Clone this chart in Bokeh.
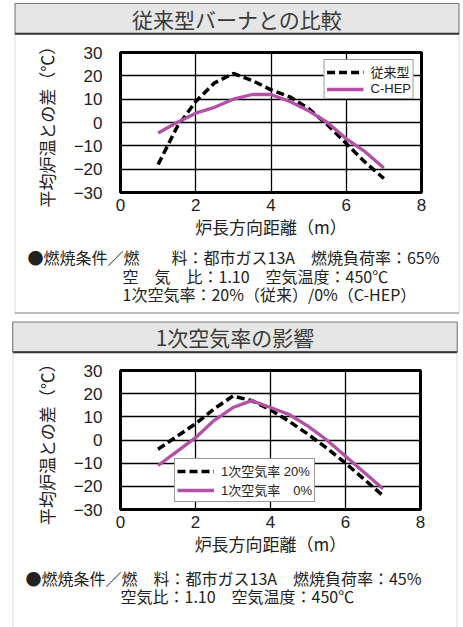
from bokeh.plotting import figure
from bokeh.layouts import column
from bokeh.models import Range1d, FixedTicker, Label
from bokeh.embed import file_html
from bokeh.resources import INLINE

# ---------------- data ----------------
x_pos = [1, 1.5, 2, 2.5, 3, 3.5, 4, 4.5, 5, 5.5, 6, 6.5, 7]
conventional = [-18, -2, 9, 17, 21, 18, 14, 11, 6, -1, -9, -17, -24]
chep = [-4.5, 0, 4, 6.5, 10, 12, 12, 9, 5, 0, -7, -12.5, -19.5]

primary_20 = [-4, 1.5, 7, 13.5, 19, 17, 13, 8, 2.5, -3.5, -10, -17, -24]
primary_0 = [-11, -5, 1, 8.5, 14, 17, 14, 11, 6, 0, -7, -14, -21]

x_ticks = [0, 2, 4, 6, 8]
x_tick_labels = ["0", "2", "4", "6", "8"]
y_ticks = [-30, -20, -10, 0, 10, 20, 30]
y_tick_labels = ["\u221230", "\u221220", "\u221210", "0", "10", "20", "30"]

title_top = "従来型バーナとの比較"
title_bottom = "1次空気率の影響"
x_label = "炉長方向距離（m）"
y_label = "平均炉温との差（℃）"
legend_top = ["従来型", "C-HEP"]
legend_bottom = ["1次空気率 20%", "1次空気率　0%"]
cond_top = ["●燃焼条件／燃　　料：都市ガス13A　燃焼負荷率：65%",
            "空　気　比：1.10　空気温度：450℃",
            "1次空気率：20%（従来）/0%（C-HEP）"]
cond_bottom = ["●燃焼条件／燃　料：都市ガス13A　燃焼負荷率：45%",
               "空気比：1.10　空気温度：450℃"]

PURPLE = "#b251a6"
CJK = "Noto Sans CJK JP"
NUM = "Liberation Sans"
LEG_FONT = "Liberation Sans, 'Noto Sans CJK JP'"
PANEL_LINE = "#7a7a7a"


def make_panel(top_px, f_left, f_top, f_w, f_h, total_h, s1, s2, labels,
               title, title_pad, cond, cond_pos, legend_loc, panel_top, panel_bottom):
    p = figure(frame_width=f_w, frame_height=f_h,
               min_border_left=f_left, min_border_right=463 - f_left - f_w,
               min_border_top=f_top, min_border_bottom=total_h - f_top - f_h,
               x_range=Range1d(0, 8), y_range=Range1d(-30, 30),
               output_backend="svg", toolbar_location=None)
    p.background_fill_color = "white"
    p.border_fill_color = "white"
    p.outline_line_color = "black"
    p.outline_line_width = 3

    # page px -> data coordinates (linear scale extrapolation)
    def X(px):
        return (px - f_left) * 8.0 / f_w

    def Y(py):
        return 30 - (py - top_px - f_top) * 60.0 / f_h

    def rect(l, r, t, b, fill, side):
        w = (r - l) / 2.0
        h = (b - t) / 2.0
        lab = Label(x=X((l + r) / 2.0), y=Y((t + b) / 2.0), text=" ",
                    text_font_size="1px", text_align="center",
                    text_baseline="middle",
                    padding=dict(left=int(w), right=int(round(w)),
                                 top=int(h), bottom=int(round(h))),
                    background_fill_color=fill, background_fill_alpha=1)
        p.add_layout(lab, side)

    for ax in (p.xaxis[0], p.yaxis[0]):
        ax.axis_line_color = None
        ax.major_tick_line_color = None
        ax.minor_tick_line_color = None
        ax.major_label_text_font = NUM
        ax.major_label_text_font_size = "17px"
        ax.major_label_text_color = "#222222"
        ax.axis_label_text_font = CJK
        ax.axis_label_text_font_size = "17px"
        ax.axis_label_text_font_style = "normal"
        ax.axis_label_text_color = "#222222"

    p.xaxis.ticker = FixedTicker(ticks=x_ticks)
    p.yaxis.ticker = FixedTicker(ticks=y_ticks)
    p.xaxis.major_label_overrides = dict(zip(x_ticks, x_tick_labels))
    p.yaxis.major_label_overrides = dict(zip(y_ticks, y_tick_labels))
    p.xaxis.major_label_standoff = 0
    p.yaxis.major_label_standoff = 12
    p.xaxis.axis_label = x_label
    p.yaxis.axis_label = y_label
    p.xaxis.axis_label_standoff = 0
    p.yaxis.axis_label_standoff = 12

    p.xgrid.ticker = FixedTicker(ticks=x_ticks)
    p.ygrid.ticker = FixedTicker(ticks=y_ticks)
    for g in (p.xgrid[0], p.ygrid[0]):
        g.grid_line_color = "black"
        g.grid_line_width = 1.3

    p.line(x_pos, s1, line_color="black", line_width=3.5, line_dash="8 4",
           legend_label=labels[0])
    p.line(x_pos, s2, line_color=PURPLE, line_width=3.3, legend_label=labels[1])

    lg = p.legend[0]
    lg.location = legend_loc
    lg.margin = 7
    lg.padding = 2
    lg.spacing = 0
    lg.label_text_font = LEG_FONT
    lg.label_text_font_size = "13px"
    lg.label_text_color = "#222222"
    lg.label_height = 14
    lg.glyph_height = 14
    lg.glyph_width = 37
    lg.label_standoff = 7
    lg.border_line_color = "#333333"
    lg.border_line_width = 1
    lg.background_fill_color = "white"
    lg.background_fill_alpha = 1

    # panel decorations (side panels are not clipped to the frame)
    p.add_layout(Label(x=X(234.5), y=Y(panel_top + 15), text=title,
                       text_align="center", text_baseline="middle",
                       text_font=CJK, text_font_size="21px", text_color="#3a3a3a",
                       padding=dict(left=title_pad, right=title_pad, top=0, bottom=0),
                       background_fill_color="#e6e6e6", background_fill_alpha=1,
                       border_line_color=PANEL_LINE, border_line_width=1), "above")
    rect(12.5, 456.5, panel_top + 29.5, panel_top + 31, "#333333", "above")
    rect(12, 13, panel_top, panel_bottom, PANEL_LINE, "left")
    rect(456, 457, panel_top, panel_bottom, PANEL_LINE, "right")
    if panel_bottom < top_px + total_h:
        rect(12.5, 456.5, panel_bottom - 0.5, panel_bottom + 0.5, PANEL_LINE, "below")

    for txt, (cx, cy) in zip(cond, cond_pos):
        p.add_layout(Label(x=X(cx), y=Y(cy), text=txt, text_align="left",
                           text_baseline="middle", text_font=CJK,
                           text_font_size="16px", text_color="#222222"), "below")
    return p


p1 = make_panel(0, 118, 52, 301, 140, 317, conventional, chep, legend_top,
                title_top, 117, cond_top, [(25, 256), (120, 275), (120, 293)],
                "top_right", 3, 312.5)
p2 = make_panel(317, 120, 53, 300, 139, 310, primary_20, primary_0, legend_bottom,
                title_bottom, 143, cond_bottom, [(25, 577), (120, 595)],
                (54, 7), 321.5, 660)

layout = column(p1, p2, spacing=0)
open("out.html", "w").write(file_html(layout, INLINE))
